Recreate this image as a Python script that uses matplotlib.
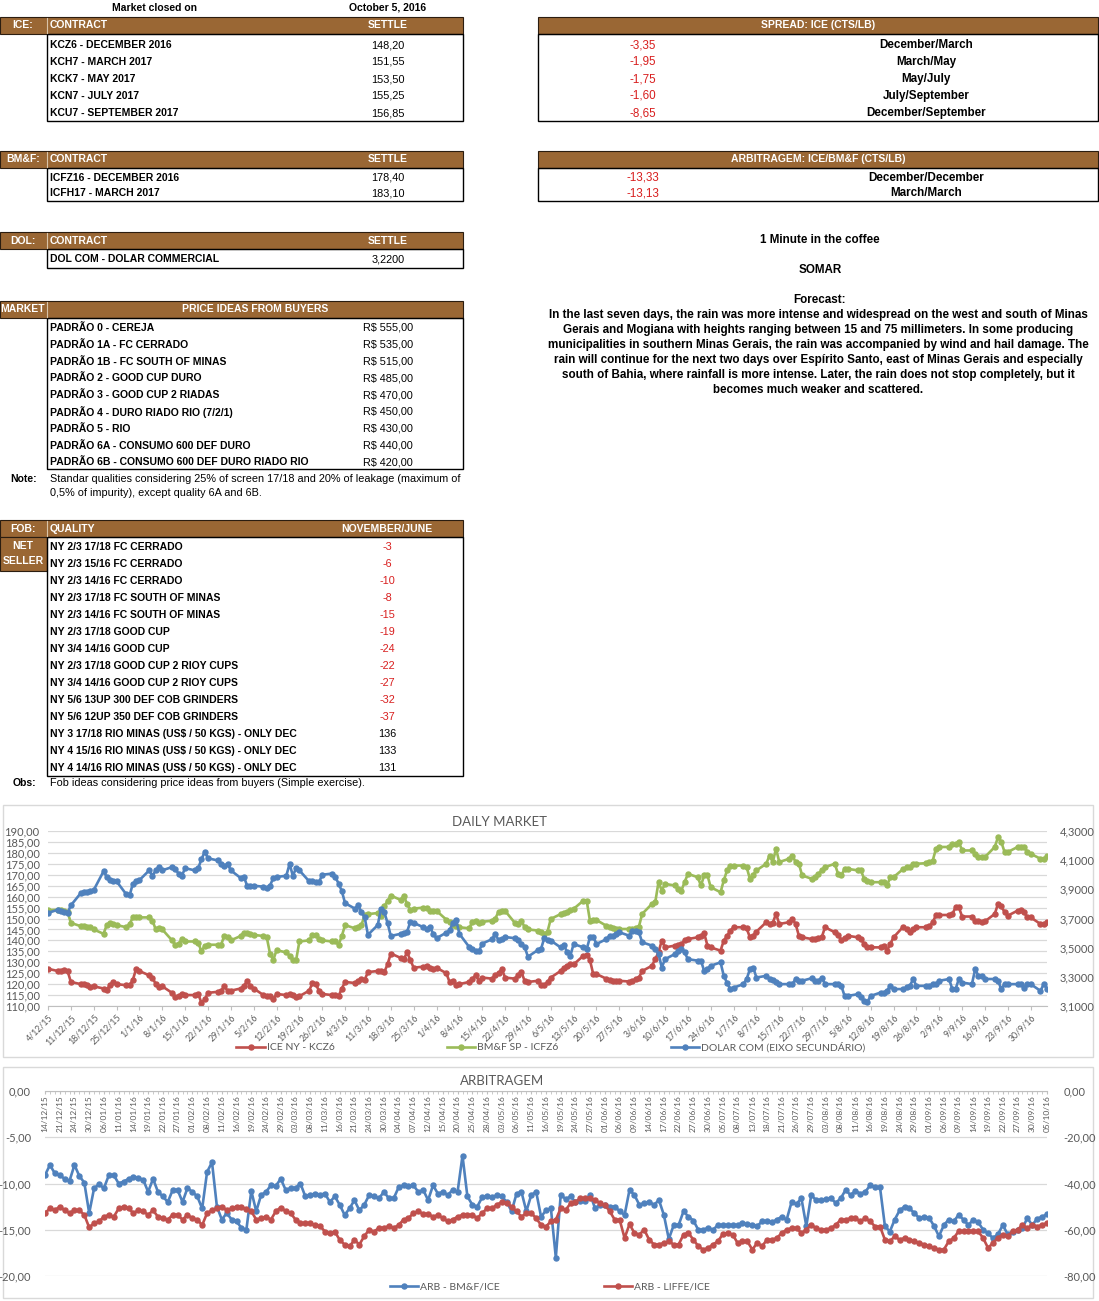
import pandas as pd
import numpy as np
import matplotlib
matplotlib.use("Agg")
import matplotlib.pyplot as plt
import matplotlib.dates as mdates
import matplotlib.transforms as mtransforms
from matplotlib.patches import Rectangle
from matplotlib.ticker import FuncFormatter

# ---------------- table data ----------------
closed_on = "October 5, 2016"

ice_contracts = ["KCZ6 - DECEMBER 2016", "KCH7 - MARCH 2017", "KCK7 - MAY 2017",
                 "KCN7 - JULY 2017", "KCU7 - SEPTEMBER 2017"]
ice_settle = ["148,20", "151,55", "153,50", "155,25", "156,85"]

bmf_contracts = ["ICFZ16 - DECEMBER 2016", "ICFH17 - MARCH 2017"]
bmf_settle = ["178,40", "183,10"]

dol_contracts = ["DOL COM - DOLAR COMMERCIAL"]
dol_settle = ["3,2200"]

spread_values = ["-3,35", "-1,95", "-1,75", "-1,60", "-8,65"]
spread_pairs = ["December/March", "March/May", "May/July", "July/September", "December/September"]

arb_values = ["-13,33", "-13,13"]
arb_pairs = ["December/December", "March/March"]

padrao_names = ["PADRÃO 0 - CEREJA", "PADRÃO 1A - FC CERRADO", "PADRÃO 1B - FC SOUTH OF MINAS",
                "PADRÃO 2 - GOOD CUP DURO", "PADRÃO 3 - GOOD CUP 2 RIADAS",
                "PADRÃO 4 - DURO RIADO RIO (7/2/1)", "PADRÃO 5 - RIO",
                "PADRÃO 6A - CONSUMO 600 DEF DURO", "PADRÃO 6B - CONSUMO 600 DEF DURO RIADO RIO"]
padrao_prices = ["R$ 555,00", "R$ 535,00", "R$ 515,00", "R$ 485,00", "R$ 470,00",
                 "R$ 450,00", "R$ 430,00", "R$ 440,00", "R$ 420,00"]

fob_quality = ["NY 2/3 17/18 FC CERRADO", "NY 2/3 15/16 FC CERRADO", "NY 2/3 14/16 FC CERRADO",
               "NY 2/3 17/18 FC SOUTH OF MINAS", "NY 2/3 14/16 FC SOUTH OF MINAS",
               "NY 2/3 17/18 GOOD CUP", "NY 3/4 14/16 GOOD CUP", "NY 2/3 17/18 GOOD CUP 2 RIOY CUPS",
               "NY 3/4 14/16 GOOD CUP 2 RIOY CUPS", "NY 5/6 13UP 300 DEF COB GRINDERS",
               "NY 5/6 12UP 350 DEF COB GRINDERS", "NY 3 17/18 RIO MINAS (US$ / 50 KGS) - ONLY DEC",
               "NY 4 15/16 RIO MINAS (US$ / 50 KGS) - ONLY DEC", "NY 4 14/16 RIO MINAS (US$ / 50 KGS) - ONLY DEC"]
fob_values = ["-3", "-6", "-10", "-8", "-15", "-19", "-24", "-22", "-27", "-32", "-37", "136", "133", "131"]

forecast_lines = [
    "In the last seven days, the rain was more intense and widespread on the west and south of Minas",
    "Gerais and Mogiana with heights ranging between 15 and 75 millimeters. In some producing",
    "municipalities in southern Minas Gerais, the rain was accompanied by wind and hail damage. The",
    "rain will continue for the next two days over Espírito Santo, east of Minas Gerais and especially",
    "south of Bahia, where rainfall is more intense. Later, the rain does not stop completely, but it",
    "becomes much weaker and scattered.",
]

# ---------------- daily market (one row per week, Mon-Fri) ----------------
ice_kcz6 = [
    127,
    126, 126, 126.5, 126, 121,
    120, 120, 119.5, 118.5, 119,
    118, 117.5, 119.5, 121, 120,
    119.5, 119.5, 122, 127, 126,
    124, 123, 120, 118.5, 119,
    116, 114, 114.5, 115.5, 115,
    115, 115.5, 111.5, 113, 116,
    116.5, 117, 119, 117, 117,
    118, 119, 121.5, 119, 118,
    115, 114.5, 114.5, 113, 115.5,
    115, 115.5, 115, 114, 114.5,
    117, 120.5, 120, 117, 115.5,
    115, 115, 114.5, 118, 121,
    120.5, 121.5, 122.5, 122, 125.5,
    126, 126, 125.5, 129, 134,
    132, 131.5, 134.5, 131, 127.5,
    128, 128.5, 127.5, 127, 127.5,
    125, 121, 121.5, 119.5, 120,
    121, 122.5, 124, 121.5, 123,
    122.5, 124, 125, 127, 123,
    122.5, 124, 125.5, 121.5, 121,
    121.5, 119.5, 119.5, 121, 123,
    126, 127.5, 128.5, 129, 129,
    133, 133.5, 131, 124.6, 124.6,
    122.5, 122, 121.5, 121.5, 121.5,
    121.2, 121.5, 122.3, 123, 126,
    128.4, 131.4, 134.5, 139.9, 136.8,
    137.6, 138, 138.3, 140, 140.6,
    141.4, 142.1, 143.2, 137.6, 136.8,
    135.3, 139.9, 142, 144.4, 146,
    146, 145.5, 141.4, 142.1, 144,
    148.3, 147.5, 148, 152.1, 147.5,
    148.3, 149.8, 147.5, 142.1, 141.4,
    140.6, 140.6, 141, 141.4, 146,
    143.7, 142.5, 140.2, 141, 142.1,
    141.4, 140.6, 138.3, 136.8, 136.8,
    136.8, 137.6, 135.3, 138.3, 141.4,
    146.3, 145.2, 143.7, 145, 146,
    146, 146.5, 148.3, 151.6, 151.6,
    151.6, 152, 155.1, 155.1, 150.9,
    150.9, 148.7, 148.7, 148.5, 148.7,
    152.1, 156.7, 155.5, 153, 151.3,
    153.6, 153.9, 152.8, 150.5, 150.5,
    147.5, 147.5, 148.2,
]

bmf_icfz6 = [
    153.8,
    154, 154, 153.5, 153, 148,
    146.5, 146.5, 146, 146, 145,
    143, 147, 148, 147.5, 147,
    146, 147.5, 150.5, 150.5, 150.5,
    150.5, 149, 145, 145.5, 145,
    140, 138, 138.5, 140.5, 139.5,
    139.5, 139, 135, 137.5, 138,
    138, 138, 142, 141.5, 140,
    142, 143.5, 143.5, 143, 142.5,
    142, 141.5, 134, 131, 135.5,
    134.5, 133, 131, 131, 139.5,
    140, 142.5, 142.5, 140.5, 140,
    139.5, 139.5, 138, 142, 147,
    145.5, 146, 147, 151.5, 152,
    152.5, 151, 155.5, 158, 160.5,
    158.5, 160.5, 156.5, 154, 154.5,
    155, 155, 153.5, 153.5, 153.5,
    149.5, 148.5, 147, 146.5, 146,
    145.5, 148.5, 149, 148, 148.5,
    149, 150, 153, 153.5, 153.5,
    148, 147.5, 149, 146, 145,
    144.5, 144, 143, 144, 149.8,
    152, 152.5, 153, 153.9, 154.4,
    158.2, 158.2, 149, 149.3, 149.3,
    146.7, 146, 145.6, 145.2, 145.2,
    145.2, 145.3, 145.6, 146.3, 152.1,
    156.7, 157.4, 166.6, 162.8, 165.8,
    165.1, 163.5, 162.8, 166.6, 170.4,
    168.9, 165.1, 169.7, 169.7, 164.3,
    162, 167.4, 172, 174.2, 174.2,
    174.2, 173.5, 168.1, 170, 172,
    175, 178.8, 175.8, 181.9, 175.8,
    177.3, 178.8, 175.8, 175, 169.7,
    168.1, 169, 170.4, 172, 173.5,
    175, 170.4, 169.7, 172.7, 172.7,
    172, 172, 168.1, 167, 166.6,
    166.6, 166.6, 165.1, 168.9, 168.9,
    172.7, 173.5, 173.5, 175, 175,
    175.3, 175.8, 176.5, 181.9, 182.7,
    182.7, 184.2, 184.2, 185, 181.1,
    181.1, 179.6, 178.1, 178.1, 178.1,
    182.7, 187.2, 185, 180.4, 180.4,
    182.7, 182.7, 182.7, 180.4, 179.6,
    177.3, 177.3, 178.4,
]

dolar_com = [
    3.738,
    3.760, 3.753, 3.745, 3.738, 3.790,
    3.873, 3.880, 3.880, 3.888, 3.895,
    4.023, 3.985, 3.963, 3.955, 3.955,
    3.865, 3.858, 3.940, 3.955, 3.963,
    4.030, 3.993, 4.030, 4.053, 4.030,
    4.053, 4.038, 4.008, 3.993, 4.045,
    4.030, 4.045, 4.105, 4.158, 4.113,
    4.098, 4.075, 4.060, 4.075, 4.030,
    3.978, 3.985, 3.925, 3.925, 3.925,
    3.918, 3.910, 3.925, 3.978, 3.985,
    3.993, 4.075, 3.993, 4.045, 4.030,
    3.955, 3.955, 3.948, 3.948, 4.000,
    4.008, 3.985, 3.940, 3.888, 3.805,
    3.768, 3.790, 3.745, 3.708, 3.588,
    3.655, 3.768, 3.745, 3.670, 3.580,
    3.595, 3.603, 3.610, 3.678, 3.670,
    3.640, 3.625, 3.640, 3.595, 3.565,
    3.603, 3.618, 3.670, 3.693, 3.595,
    3.505, 3.490, 3.475, 3.475, 3.528,
    3.558, 3.595, 3.550, 3.558, 3.573,
    3.565, 3.550, 3.528, 3.505, 3.438,
    3.483, 3.490, 3.565, 3.550, 3.549,
    3.502, 3.520, 3.468, 3.445, 3.525,
    3.502, 3.490, 3.571, 3.576, 3.525,
    3.558, 3.582, 3.582, 3.594, 3.606,
    3.582, 3.616, 3.616, 3.606, 3.537,
    3.514, 3.490, 3.460, 3.364, 3.421,
    3.456, 3.480, 3.490, 3.468, 3.421,
    3.411, 3.411, 3.340, 3.355, 3.376,
    3.399, 3.307, 3.258, 3.216, 3.226,
    3.250, 3.285, 3.352, 3.364, 3.295,
    3.307, 3.285, 3.280, 3.265, 3.250,
    3.250, 3.250, 3.285, 3.273, 3.273,
    3.291, 3.273, 3.273, 3.295, 3.250,
    3.250, 3.250, 3.238, 3.169, 3.169,
    3.181, 3.160, 3.135, 3.130, 3.169,
    3.192, 3.192, 3.204, 3.238, 3.216,
    3.216, 3.228, 3.238, 3.285, 3.238,
    3.238, 3.238, 3.250, 3.250, 3.273,
    3.285, 3.216, 3.216, 3.285, 3.261,
    3.250, 3.352, 3.307, 3.307, 3.285,
    3.285, 3.273, 3.216, 3.250, 3.250,
    3.250, 3.250, 3.226, 3.250, 3.250,
    3.204, 3.250, 3.220,
]

# ---------------- arbitragem (category axis) ----------------
arb_dates = ["14/12/15", "21/12/15", "24/12/15", "30/12/15", "06/01/16", "11/01/16", "14/01/16",
             "19/01/16", "22/01/16", "27/01/16", "01/02/16", "08/02/16", "11/02/16", "16/02/16",
             "19/02/16", "24/02/16", "29/02/16", "03/03/16", "08/03/16", "11/03/16", "16/03/16",
             "21/03/16", "24/03/16", "30/03/16", "04/04/16", "07/04/16", "12/04/16", "15/04/16",
             "20/04/16", "25/04/16", "28/04/16", "03/05/16", "06/05/16", "11/05/16", "16/05/16",
             "19/05/16", "24/05/16", "27/05/16", "01/06/16", "06/06/16", "09/06/16", "14/06/16",
             "17/06/16", "22/06/16", "27/06/16", "30/06/16", "05/07/16", "08/07/16", "13/07/16",
             "18/07/16", "21/07/16", "26/07/16", "29/07/16", "03/08/16", "08/08/16", "11/08/16",
             "16/08/16", "19/08/16", "24/08/16", "29/08/16", "01/09/16", "06/09/16", "09/09/16",
             "14/09/16", "19/09/16", "22/09/16", "27/09/16", "30/09/16", "05/10/16"]

arb_bmf_ice = [
    -9.1, -8.0, -8.9, -9.1, -9.5, -9.7, -8.0, -9.2, -9.9, -13.2, -10.5, -10.1,
    -10.5, -9.1, -9.1, -10.0, -9.8, -9.5, -9.3, -9.4, -9.6, -10.9, -9.5, -10.9,
    -11.4, -12.0, -10.7, -10.7, -12.0, -10.5, -10.9, -11.4, -12.7, -8.75, -7.7, -12.5,
    -13.9, -13.2, -13.9, -14.1, -14.8, -15.0, -10.8, -13.0, -11.25, -10.9, -10.2, -10.25,
    -9.5, -10.7, -10.5, -10.5, -10.0, -11.4, -11.25, -11.1, -11.2, -11.1, -12.0, -11.4,
    -12.3, -13.4, -12.7, -11.8, -12.9, -12.3, -11.25, -11.4, -11.6, -10.9, -11.6, -11.6,
    -10.4, -10.2, -10.3, -10.2, -10.9, -10.7, -11.8, -10.2, -11.1, -10.9, -11.25, -10.7,
    -10.9, -7.0, -11.4, -12.3, -12.5, -11.5, -11.4, -11.5, -11.25, -11.4, -12.0, -13.0,
    -11.1, -10.9, -13.0, -11.25, -10.9, -13.6, -12.9, -12.7, -18.0, -11.2, -11.7, -11.4,
    -12.0, -11.9, -11.9, -11.2, -12.7, -12.3, -12.3, -12.5, -12.5, -13.0, -13.4, -10.7,
    -11.25, -12.3, -12.1, -12.0, -12.3, -11.8, -13.4, -16.0, -14.5, -14.5, -13.0, -13.6,
    -14.0, -15.0, -15.0, -14.8, -15.0, -14.5, -14.5, -14.5, -14.5, -14.5, -14.3, -14.4,
    -14.5, -14.6, -14.1, -14.1, -14.2, -13.9, -13.6, -13.9, -12.0, -12.2, -11.6, -14.6,
    -11.25, -11.8, -11.8, -11.7, -11.6, -12.1, -11.6, -10.7, -11.25, -10.8, -11.1, -10.9,
    -10.2, -10.4, -10.4, -14.6, -15.2, -13.9, -12.9, -12.5, -12.7, -13.2, -13.75, -13.6,
    -13.7, -14.6, -15.7, -14.5, -13.9, -14.1, -13.4, -13.9, -14.5, -13.9, -14.2, -15.0,
    -15.4, -15.9, -15.5, -14.5, -15.5, -15.2, -15.0, -14.8, -13.75, -14.5, -13.8, -13.6,
    -13.33,
]

arb_liffe_ice = [
    -52.8, -50.8, -51.6, -50.0, -51.6, -52.8, -51.6, -51.6, -53.6, -59.0, -57.2, -56.4,
    -54.4, -53.6, -54.4, -50.8, -50.0, -50.8, -52.8, -51.6, -52.0, -53.6, -51.6, -54.4,
    -55.0, -55.6, -53.6, -53.6, -55.6, -53.6, -55.0, -55.6, -58.0, -52.8, -51.6, -50.8,
    -50.0, -51.6, -50.8, -50.0, -50.0, -51.2, -52.0, -55.6, -55.0, -54.4, -55.6, -52.0,
    -50.4, -52.0, -52.8, -55.6, -57.2, -57.2, -57.2, -58.0, -58.4, -60.8, -61.6, -60.8,
    -64.4, -66.4, -67.2, -64.4, -66.4, -62.8, -60.0, -60.8, -59.2, -59.2, -58.4, -59.2,
    -58.0, -55.6, -55.0, -52.8, -52.0, -53.2, -53.2, -54.4, -53.6, -55.0, -56.4, -55.6,
    -54.4, -53.6, -53.6, -53.6, -55.0, -52.8, -50.8, -50.8, -49.2, -48.0, -48.4, -50.0,
    -52.0, -54.4, -52.8, -52.8, -55.0, -58.0, -58.6, -56.4, -55.7, -50.7, -51.4, -48.6,
    -47.9, -46.4, -46.4, -46.4, -47.1, -48.6, -49.3, -52.1, -55.7, -55.7, -63.6, -57.6,
    -61.4, -62.1, -60.0, -64.3, -66.4, -66.4, -65.7, -65.0, -66.4, -66.4, -62.1, -61.4,
    -64.3, -67.1, -68.6, -67.9, -66.4, -65.0, -61.9, -61.4, -62.1, -65.7, -65.0, -65.0,
    -68.6, -65.7, -67.1, -64.3, -64.3, -63.6, -61.4, -60.0, -59.3, -59.3, -61.4, -60.0,
    -57.9, -59.3, -60.0, -60.0, -59.3, -57.9, -55.7, -55.7, -55.0, -55.0, -56.4, -55.0,
    -56.4, -58.6, -58.6, -64.3, -65.0, -62.9, -64.3, -63.6, -64.3, -65.0, -65.7, -66.4,
    -67.1, -67.9, -68.6, -68.6, -65.0, -63.6, -60.7, -60.7, -60.7, -60.7, -60.7, -63.6,
    -67.9, -65.7, -63.6, -62.1, -62.9, -60.7, -60.0, -57.9, -59.3, -57.9, -58.6, -57.9,
    -57.1,
]

# ---------------- styles ----------------
TABLE_FONT = ["Liberation Sans", "DejaVu Sans"]
CHART_FONT = ["Lato", "DejaVu Sans"]
BROWN = "#9A6734"
NEG_RED = "#D81E1E"
C_RED = "#C0504D"
C_GREEN = "#9BBB59"
C_BLUE = "#4F81BD"
GRID = "#D9D9D9"
LABEL = "#595959"

W, H = 1099, 1301
fig = plt.figure(figsize=(W / 100, H / 100), dpi=100)

page = fig.add_axes([0, 0, 1, 1])
page.set_xlim(0, W)
page.set_ylim(H, 0)
page.axis("off")


def txt(x, y, s, ha="left", color="black", weight="bold", size=7.5):
    page.text(x, y, s, ha=ha, va="center", color=color, fontweight=weight,
              fontsize=size, family=TABLE_FONT)


def header(x0, x1, y0, y1, divider=True):
    page.add_patch(Rectangle((x0, y0), x1 - x0, y1 - y0, facecolor=BROWN,
                             edgecolor="#2b1d10", lw=0.8))
    if divider:
        page.plot([47, 47], [y0 + 1, y1 - 1], color="#d9c3a8", lw=0.8)


def box(x0, x1, y0, y1):
    page.add_patch(Rectangle((x0, y0), x1 - x0, y1 - y0, facecolor="none",
                             edgecolor="black", lw=1.0))


REG = 7.8   # regular-weight notes
RIGHT = 8.4  # right-hand column text

txt(155, 8, "Market closed on", ha="center")
txt(388, 8, closed_on, ha="center")

# ICE
header(0, 463, 17, 34)
txt(23, 25.5, "ICE:", ha="center", color="white")
txt(50, 25.5, "CONTRACT", color="white")
txt(388, 25.5, "SETTLE", ha="center", color="white")
box(47, 463, 34, 121)
for i, (n, v) in enumerate(zip(ice_contracts, ice_settle)):
    txt(50, 45 + 17 * i, n)
    txt(388, 45 + 17 * i, v, ha="center", weight="normal", size=REG)

# BM&F
header(0, 463, 151, 168)
txt(23, 159.5, "BM&F:", ha="center", color="white")
txt(50, 159.5, "CONTRACT", color="white")
txt(388, 159.5, "SETTLE", ha="center", color="white")
box(47, 463, 168, 201)
for i, (n, v) in enumerate(zip(bmf_contracts, bmf_settle)):
    txt(50, 178 + 15 * i, n)
    txt(388, 178 + 15 * i, v, ha="center", weight="normal", size=REG)

# DOL
header(0, 463, 232, 249)
txt(23, 240.5, "DOL:", ha="center", color="white")
txt(50, 240.5, "CONTRACT", color="white")
txt(388, 240.5, "SETTLE", ha="center", color="white")
box(47, 463, 249, 268)
for i, (n, v) in enumerate(zip(dol_contracts, dol_settle)):
    txt(50, 259.5, n)
    txt(388, 259.5, v, ha="center", weight="normal", size=REG)

# MARKET
header(0, 463, 301, 318)
txt(23, 309.5, "MARKET", ha="center", color="white")
txt(255, 309.5, "PRICE IDEAS FROM BUYERS", ha="center", color="white")
box(47, 463, 318, 469)
for i, (n, v) in enumerate(zip(padrao_names, padrao_prices)):
    y = 328 + 16.8 * i
    txt(50, y, n)
    txt(363, y, v, weight="normal", size=REG)
txt(24, 479, "Note:", ha="center")
txt(50, 479, "Standar qualities considering 25% of screen 17/18 and 20% of leakage (maximum of",
    weight="normal", size=REG)
txt(50, 493, "0,5% of impurity), except quality 6A and 6B.", weight="normal", size=REG)

# FOB
header(0, 463, 520, 537)
txt(23, 528.5, "FOB:", ha="center", color="white")
txt(50, 528.5, "QUALITY", color="white")
txt(387, 528.5, "NOVEMBER/JUNE", ha="center", color="white")
page.add_patch(Rectangle((0, 537), 47, 34, facecolor=BROWN, edgecolor="#2b1d10", lw=0.8))
txt(23, 546, "NET", ha="center", color="white")
txt(23, 561, "SELLER", ha="center", color="white")
box(47, 463, 537, 776)
for i, (n, v) in enumerate(zip(fob_quality, fob_values)):
    y = 547 + 17 * i
    txt(50, y, n)
    txt(387, y, v, ha="center", weight="normal", size=REG,
        color=NEG_RED if v.startswith("-") else "black")
txt(24, 783, "Obs:", ha="center")
txt(50, 783, "Fob ideas considering price ideas from buyers (Simple exercise).",
    weight="normal", size=REG)

# SPREAD / ARBITRAGEM (right side)
header(538, 1098, 17, 34, divider=False)
txt(818, 25.5, "SPREAD: ICE (CTS/LB)", ha="center", color="white")
box(538, 1098, 34, 121)
for i, (v, p) in enumerate(zip(spread_values, spread_pairs)):
    txt(643, 45 + 17 * i, v, ha="center", weight="normal", color=NEG_RED, size=RIGHT)
    txt(926, 45 + 17 * i, p, ha="center", size=RIGHT)

header(538, 1098, 151, 168, divider=False)
txt(818, 159.5, "ARBITRAGEM: ICE/BM&F (CTS/LB)", ha="center", color="white")
box(538, 1098, 168, 201)
for i, (v, p) in enumerate(zip(arb_values, arb_pairs)):
    txt(643, 178 + 15 * i, v, ha="center", weight="normal", color=NEG_RED, size=RIGHT)
    txt(926, 178 + 15 * i, p, ha="center", size=RIGHT)

txt(820, 240, "1 Minute in the coffee", ha="center", size=RIGHT)
txt(820, 270, "SOMAR", ha="center", size=RIGHT)
txt(820, 300, "Forecast:", ha="center", size=RIGHT)
for i, line in enumerate(forecast_lines):
    txt(818, 315 + 15 * i, line, ha="center", size=RIGHT)

# chart frames
page.add_patch(Rectangle((3, 805), 1090, 252, facecolor="none", edgecolor=GRID, lw=1))
page.add_patch(Rectangle((3, 1067), 1090, 231, facecolor="none", edgecolor=GRID, lw=1))


def fig_rect(x0, x1, y_top, y_bot):
    return [x0 / W, 1 - y_bot / H, (x1 - x0) / W, (y_bot - y_top) / H]


comma2 = FuncFormatter(lambda v, p: f"{v:.2f}".replace(".", ","))
comma4 = FuncFormatter(lambda v, p: f"{v:.4f}".replace(".", ","))

# ---------------- DAILY MARKET ----------------
ax1 = fig.add_axes(fig_rect(48, 1047, 831, 1006))
ax1.set_facecolor("none")
d_ice = pd.bdate_range("2015-12-04", periods=len(ice_kcz6))
d_bmf = pd.bdate_range("2015-12-04", periods=len(bmf_icfz6))
d_dol = pd.bdate_range("2015-12-04", periods=len(dolar_com))

l1, = ax1.plot(d_ice, ice_kcz6, color=C_RED, lw=1.9, marker="o", ms=3.6, label="ICE NY - KCZ6")
l2, = ax1.plot(d_bmf, bmf_icfz6, color=C_GREEN, lw=1.9, marker="o", ms=3.6, label="BM&F SP - ICFZ6")
ax1.set_ylim(110, 190)
ax1.set_yticks(np.arange(110, 191, 5))
ax1.yaxis.set_major_formatter(comma2)
ax1.set_xlim(pd.Timestamp("2015-12-04"), pd.Timestamp("2016-10-05"))
ax1.set_xticks(pd.date_range("2015-12-04", "2016-09-30", freq="7D"))


def dmy(v, p):
    d = mdates.num2date(v)
    return f"{d.day}/{d.month}/{d:%y}"


ax1.xaxis.set_major_formatter(FuncFormatter(dmy))
ax1.grid(axis="y", color=GRID, lw=0.9)
ax1.set_axisbelow(True)
for s in ["top", "right", "left"]:
    ax1.spines[s].set_visible(False)
ax1.spines["bottom"].set_color("#BFBFBF")
ax1.tick_params(axis="y", length=0, pad=6, labelsize=8, labelcolor=LABEL)
ax1.tick_params(axis="x", length=3, color="#BFBFBF", pad=2, labelsize=6.3, labelcolor=LABEL)
for lab in ax1.get_xticklabels():
    lab.set_rotation(45)
    lab.set_ha("right")
    lab.set_rotation_mode("anchor")
for lab in ax1.get_xticklabels() + ax1.get_yticklabels():
    lab.set_family(CHART_FONT)

ax2 = ax1.twinx()
ax2.set_facecolor("none")
l3, = ax2.plot(d_dol, dolar_com, color=C_BLUE, lw=1.9, marker="o", ms=3.6,
               label="DOLAR COM (EIXO SECUNDÁRIO)")
ax2.set_ylim(3.1, 4.3)
ax2.set_yticks([3.1, 3.3, 3.5, 3.7, 3.9, 4.1, 4.3])
ax2.yaxis.set_major_formatter(comma4)
for s in ax2.spines.values():
    s.set_visible(False)
ax2.tick_params(axis="y", length=0, pad=9, labelsize=8, labelcolor=LABEL)
for lab in ax2.get_yticklabels():
    lab.set_family(CHART_FONT)

fig.text(500 / W, 1 - 822 / H, "DAILY MARKET", ha="center", va="center",
         fontsize=9.5, color=LABEL, family=CHART_FONT)
fig.legend([l1, l2, l3], [l1.get_label(), l2.get_label(), l3.get_label()],
           loc="center", bbox_to_anchor=(551 / W, 1 - 1047 / H), ncol=3, frameon=False,
           handlelength=2.7, columnspacing=10.8, handletextpad=0.2,
           prop={"family": CHART_FONT, "size": 7.5}, labelcolor=LABEL)

# ---------------- ARBITRAGEM ----------------
x_arb = np.arange(len(arb_bmf_ice))
ax3 = fig.add_axes(fig_rect(45, 1047, 1091, 1276))
ax3.set_facecolor("none")
ax3.set_ylim(-20, 0)
ax3.set_yticks([0, -5, -10, -15, -20])
ax3.yaxis.set_major_formatter(comma2)
ax3.set_xlim(0, len(arb_bmf_ice) - 1)
ax3.set_xticks(np.arange(0, len(arb_bmf_ice), 3))
ax3.set_xticks(x_arb, minor=True)
ax3.grid(axis="y", color=GRID, lw=0.9)
ax3.set_axisbelow(True)
for s in ["bottom", "right", "left"]:
    ax3.spines[s].set_visible(False)
ax3.spines["top"].set_color("#BFBFBF")
ax3.tick_params(axis="x", which="both", top=True, bottom=False, labelbottom=False,
                labeltop=False, direction="in", length=2.5, color="#BFBFBF")
ax3.tick_params(axis="y", length=0, pad=10, labelsize=8, labelcolor=LABEL)
for lab in ax3.get_yticklabels():
    lab.set_family(CHART_FONT)
trans = mtransforms.blended_transform_factory(ax3.transData, ax3.transAxes)
for i, lab in enumerate(arb_dates):
    ax3.text(3 * i, 0.975, lab, transform=trans, rotation=90, ha="center", va="top",
             fontsize=6.0, color=LABEL, family=CHART_FONT)

la, = ax3.plot(x_arb, arb_bmf_ice, color=C_BLUE, lw=1.9, marker="o", ms=3.6, label="ARB - BM&F/ICE")

ax4 = ax3.twinx()
ax4.set_facecolor("none")
lb, = ax4.plot(x_arb, arb_liffe_ice, color=C_RED, lw=1.9, marker="o", ms=3.6, label="ARB - LIFFE/ICE")
ax4.set_ylim(-80, 0)
ax4.set_yticks([0, -20, -40, -60, -80])
ax4.yaxis.set_major_formatter(comma2)
for s in ax4.spines.values():
    s.set_visible(False)
ax4.tick_params(axis="y", length=0, pad=12, labelsize=8, labelcolor=LABEL)
for lab in ax4.get_yticklabels():
    lab.set_family(CHART_FONT)

fig.text(502 / W, 1 - 1081 / H, "ARBITRAGEM", ha="center", va="center",
         fontsize=9.5, color=LABEL, family=CHART_FONT)
fig.legend([la, lb], [la.get_label(), lb.get_label()],
           loc="center", bbox_to_anchor=(550 / W, 1 - 1287 / H), ncol=2, frameon=False,
           handlelength=2.7, columnspacing=10, handletextpad=0.2,
           prop={"family": CHART_FONT, "size": 7.5}, labelcolor=LABEL)

fig.savefig("out.png", dpi=100)
